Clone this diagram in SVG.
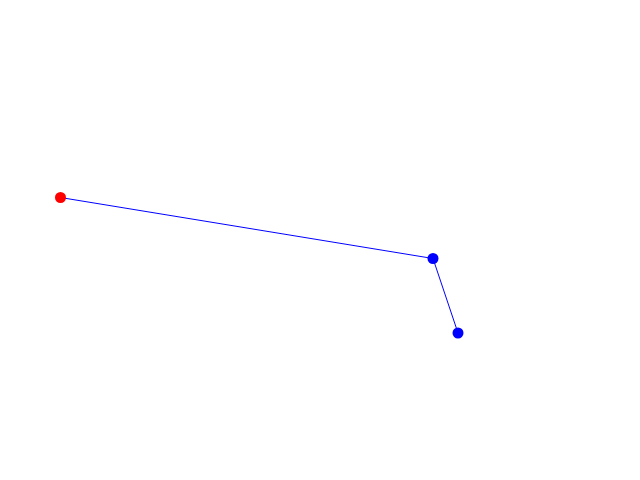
<svg xmlns="http://www.w3.org/2000/svg" width="640" height="480" viewBox="0 0 640 480">
<style>
.edge{stroke:#0000ff;stroke-width:1;fill:none}
.blue{fill:#0000ff}
.red{fill:#ff0000}
</style>
<rect width="640" height="480" fill="#ffffff"/>
<g id="connectors">
<polyline class="edge" points="60.5,197.5 433,258.5 458,333"/>
</g>
<g id="n0"><circle class="red" cx="60.5" cy="197.5" r="5.5"/></g>
<g id="n1"><circle class="blue" cx="433" cy="258.5" r="5.5"/></g>
<g id="n2"><circle class="blue" cx="458" cy="333" r="5.5"/></g>
</svg>
